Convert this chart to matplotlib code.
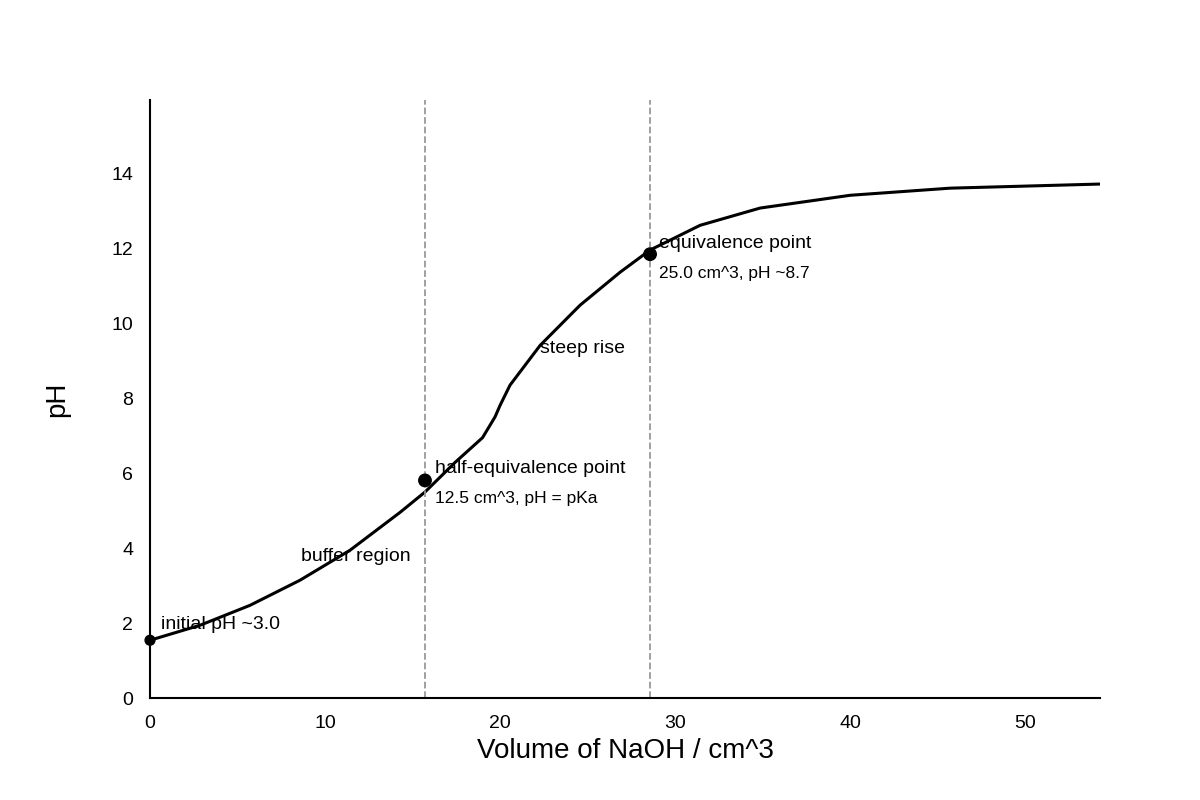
import numpy as np
import matplotlib.pyplot as plt

plt.rcParams['font.family'] = ['Liberation Sans', 'DejaVu Sans']

# curve
vol = [0, 2.86, 5.71, 8.57, 11.43, 14.29, 15.71, 17.43, 19.0, 19.71, 20.0,
       20.57, 22.29, 24.57, 26.86, 28.57, 31.43, 34.86, 40.0, 45.71, 54.3]
ph = [1.55, 1.95, 2.48, 3.15, 3.95, 4.96, 5.5, 6.29, 6.95, 7.5, 7.81,
      8.35, 9.41, 10.48, 11.36, 11.95, 12.61, 13.07, 13.41, 13.6, 13.71]

pt_x = [0, 15.71, 28.57]
pt_y = [1.55, 5.81, 11.84]
vlines = [15.71, 28.57]

fig, ax = plt.subplots(figsize=(12, 8), dpi=100)
fig.subplots_adjust(left=0.125, right=0.917, bottom=0.127, top=0.875)

ax.plot(vol, ph, color='black', lw=2.2)
ax.scatter(pt_x, pt_y, color='black', s=[50, 80, 80], zorder=3, clip_on=False)
for v in vlines:
    ax.axvline(v, color='#999999', ls='--', lw=1.3)

ax.text(0.6, 1.85, 'initial pH ~3.0', fontsize=14)
ax.text(8.6, 3.65, 'buffer region', fontsize=14)
ax.text(16.3, 6.0, 'half-equivalence point', fontsize=14)
ax.text(16.3, 5.2, '12.5 cm^3, pH = pKa', fontsize=12.5)
ax.text(22.3, 9.2, 'steep rise', fontsize=14)
ax.text(29.1, 12.0, 'equivalence point', fontsize=14)
ax.text(29.1, 11.2, '25.0 cm^3, pH ~8.7', fontsize=12.5)

ax.set_xlim(0, 54.3)
ax.set_ylim(0, 15.95)
ax.set_xticks([0, 10, 20, 30, 40, 50])
ax.set_yticks([0, 2, 4, 6, 8, 10, 12, 14])
ax.tick_params(length=0, labelsize=14, pad=12)
ax.spines['top'].set_visible(False)
ax.spines['right'].set_visible(False)
ax.spines['left'].set_linewidth(1.5)
ax.spines['bottom'].set_linewidth(1.5)
ax.set_xlabel('Volume of NaOH / cm^3', fontsize=20, labelpad=4)
ax.set_ylabel('pH', fontsize=20, labelpad=30)

fig.savefig('out.png')
